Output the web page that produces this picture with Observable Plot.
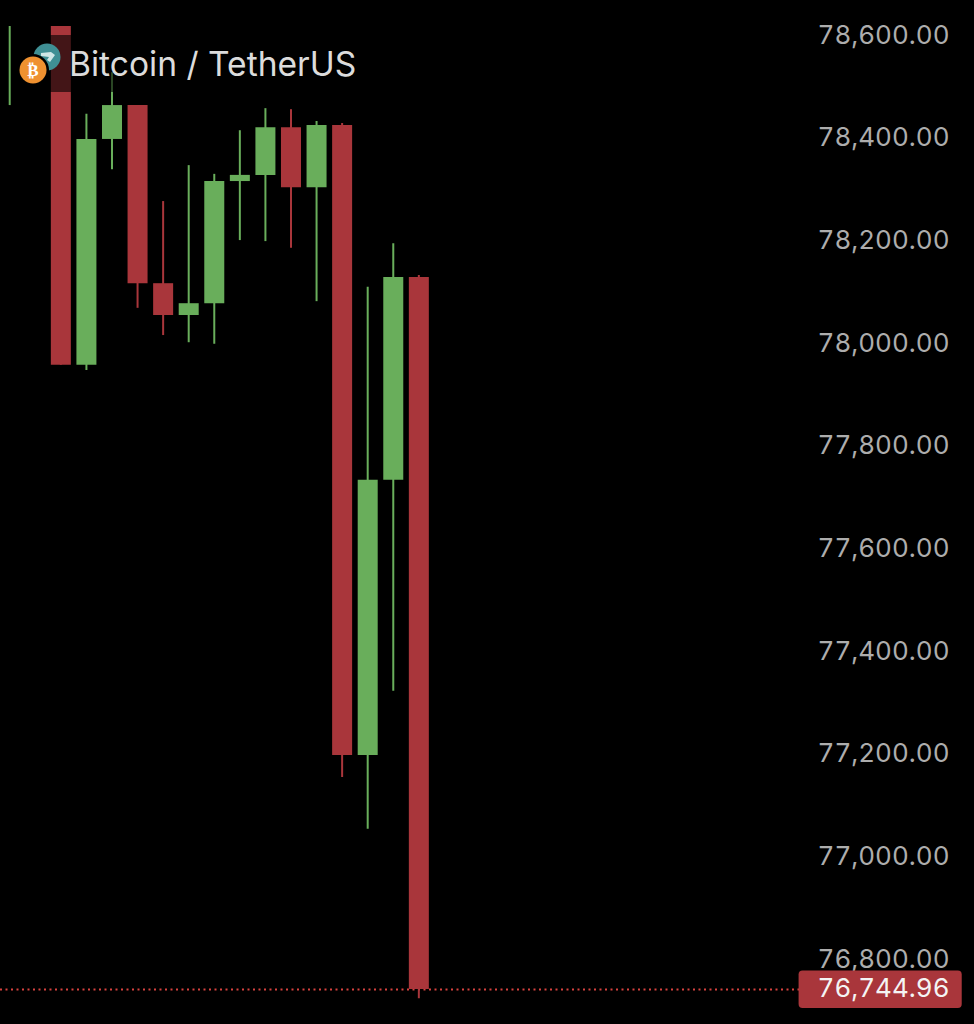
<!DOCTYPE html>
<html>
<head>
<meta charset="utf-8">
<style>
html,body{margin:0;padding:0;background:#000;width:974px;height:1024px;overflow:hidden}
#wrap{position:relative;width:974px;height:1024px}
#wrap svg.plot{position:absolute;left:0;top:0;display:block}
#scrim{position:absolute;left:16px;top:35px;width:346px;height:57px;background:rgba(0,0,0,.6)}
#icons{position:absolute;left:16px;top:40px}
#legend{position:absolute;left:69px;top:44px;font:33.6px Inter,sans-serif;color:#dcdcdc;line-height:40px;white-space:nowrap}
</style>
<script src="https://cdn.jsdelivr.net/npm/d3@7"></script>
<script src="https://cdn.jsdelivr.net/npm/@observablehq/plot@0.6"></script>
</head>
<body>
<div id="wrap"></div>
<script>
const slots  = [0, 2, 3, 4, 5, 6, 7, 8, 9, 10, 11, 12, 13, 14, 15, 16];
const opens  = [null, 78621, 77961, 78401, 78467, 78120, 78058, 78081, 78319, 78331, 78424, 78307, 78428, 77201, 77737, 78132];
const highs  = [78621, 78621, 78450, 78531, 78467, 78280, 78350, 78333, 78418, 78461, 78459, 78436, 78432, 78113, 78198, 78136];
const lows   = [78467, 77961, 77951, 78342, 78072, 78019, 78005, 78002, 78204, 78202, 78189, 78085, 77158, 77057, 77326, 76727];
const closes = [null, 77961, 78401, 78467, 78120, 78058, 78081, 78319, 78331, 78424, 78307, 78428, 77201, 77737, 78132, 76744.96];

const priceTicks = [78600, 78400, 78200, 78000, 77800, 77600, 77400, 77200, 77000, 76800];
const lastPrice = 76744.96;
const pairName = "Bitcoin / TetherUS";

const UP = "#69ae5b", DOWN = "#a9363b";
const fmt = d3.format(",.2f");
const candles = slots.map((s, i) => ({slot: s, open: opens[i], high: highs[i], low: lows[i], close: closes[i]}));
const colorOf = d => (d.open == null || d.close >= d.open) ? UP : DOWN;
const font = "Inter, sans-serif";

const chart = Plot.plot({
  width: 974, height: 1024,
  marginTop: 0, marginBottom: 0, marginLeft: 0, marginRight: 0,
  style: {background: "#000", fontVariantNumeric: "tabular-nums"},
  x: {domain: [-0.36, 37.73], axis: null},
  y: {domain: [76676.8, 78671.7], axis: null},
  marks: [
    Plot.ruleY([lastPrice], {x1: -0.36, x2: 31, stroke: "#d8423f", strokeWidth: 2, strokeDasharray: "2,3.5"}),
    Plot.ruleX(candles, {x: "slot", y1: "low", y2: "high", stroke: colorOf, strokeWidth: 2}),
    Plot.ruleX(candles.filter(d => d.open != null), {x: "slot", y1: "open", y2: "close", stroke: colorOf, strokeWidth: 20}),
    Plot.text(priceTicks, {
      y: d => d, text: fmt, frameAnchor: "right", textAnchor: "end", dx: -25, dy: -1.8,
      fill: "#adadad", fontSize: 26, fontFamily: font, letterSpacing: 1
    }),
    Plot.rect([lastPrice], {
      x1: 30.87, x2: 37.25, y1: d => d - 37, y2: d => d + 36,
      fill: DOWN, rx: 4
    }),
    Plot.text([lastPrice], {
      y: d => d, text: fmt, frameAnchor: "right", textAnchor: "end", dx: -25, dy: -0.5,
      fill: "#f4f4f4", fontSize: 26, fontFamily: font, letterSpacing: 1
    })
  ]
});

const wrap = document.getElementById("wrap");
wrap.appendChild(chart);
wrap.insertAdjacentHTML("beforeend", `
  <div id="scrim"></div>
  <svg id="icons" width="50" height="50" viewBox="16 40 50 50">
    <circle cx="47" cy="57" r="13.5" fill="#3f8f94"/>
    <path d="M41 53 l10 -1 l4 3 l-5 7 l-3 -2 l2 -3 l-8 -1 z" fill="#cfe6e6"/>
    <circle cx="33" cy="70" r="16" fill="#000"/>
    <circle cx="33" cy="70" r="13.5" fill="#ef9130"/>
    <text x="33" y="76" text-anchor="middle" font-size="17" font-weight="700" font-family="DejaVu Sans" fill="#fff">₿</text>
  </svg>
  <div id="legend"></div>`);
document.getElementById("legend").textContent = pairName;
</script>
</body>
</html>
